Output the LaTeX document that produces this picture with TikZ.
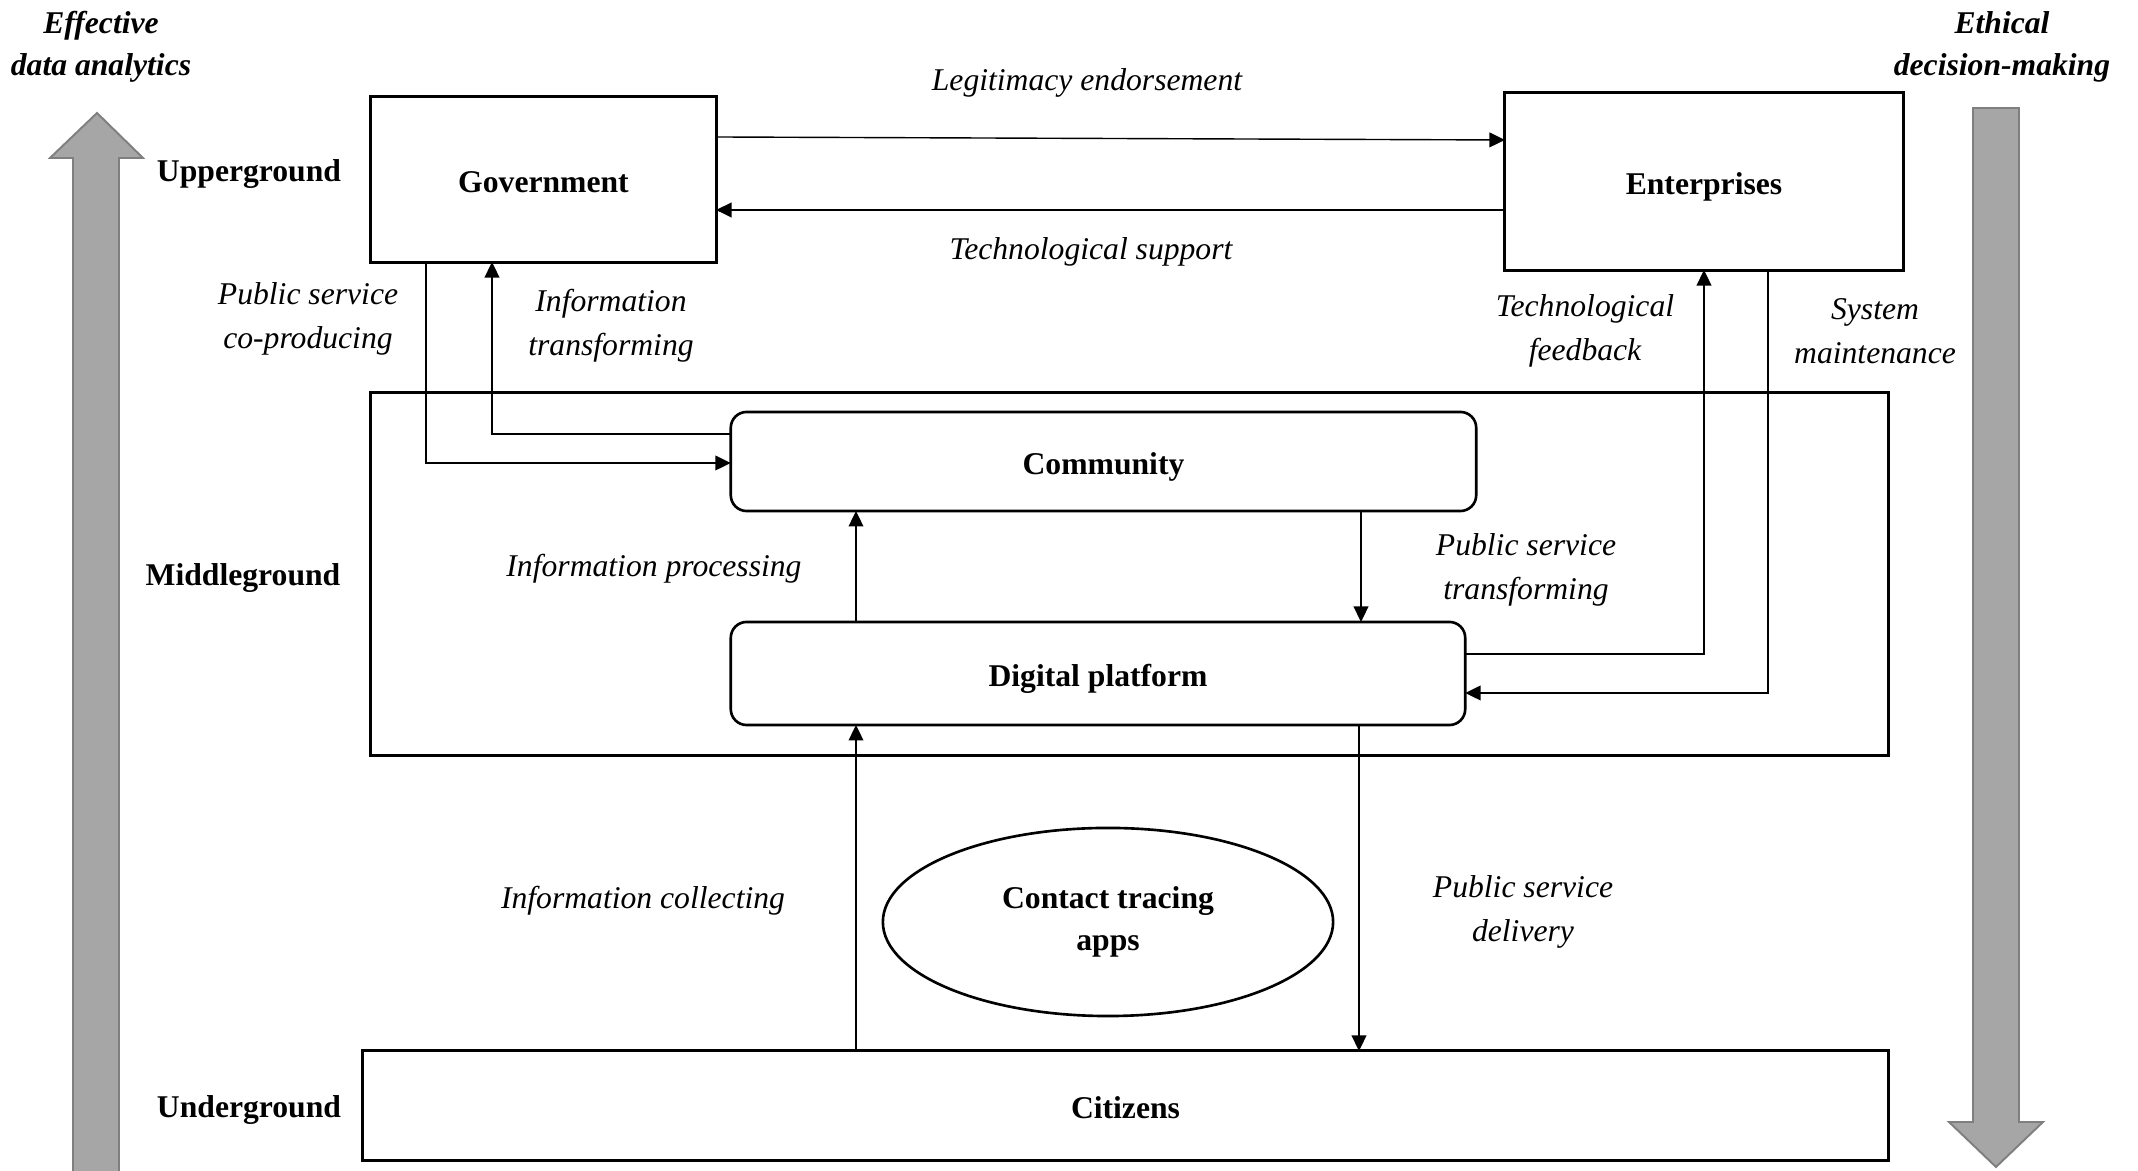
\documentclass[tikz,border=0pt]{standalone}
\usepackage{fontspec}
\setmainfont{Liberation Serif}
\usetikzlibrary{arrows.meta,shapes.geometric}
\definecolor{arrfill}{HTML}{A6A6A6}
\definecolor{arrdraw}{HTML}{7F7F7F}
\tikzset{
  box/.style={draw, line width=0.85pt, rectangle, inner sep=0pt, outer sep=0pt,
              text height=9pt, text depth=1.5pt,
              font=\fontsize{9}{11}\selectfont\bfseries},
  rbox/.style={box, rounded corners=4.5pt, line width=0.75pt},
  lab/.style={font=\fontsize{9}{12.5}\selectfont\itshape, align=center, inner sep=0pt},
  lvl/.style={font=\fontsize{9}{11}\selectfont\bfseries, inner sep=0pt},
  ttl/.style={font=\fontsize{9}{12}\selectfont\bfseries\itshape, align=center, inner sep=0pt},
  conn/.style={line width=0.4pt, -{Triangle[length=4.4pt,width=4.2pt]}},
  bigarrow/.style={fill=arrfill, draw=arrdraw, line width=0.55pt}
}
\begin{document}
\begin{tikzpicture}[x=0.01cm, y=-0.01cm]
\useasboundingbox (0,0) rectangle (2138,1171);

% big gray arrows
\draw[bigarrow] (73,1185) -- (73,158) -- (50,158) -- (97,113) -- (143,158) -- (119,158) -- (119,1185) -- cycle;
\draw[bigarrow] (1973,108) -- (2019,108) -- (2019,1122) -- (2043,1122) -- (1996,1167) -- (1949,1122) -- (1973,1122) -- cycle;

% titles
\node[ttl] (tl) at (101,47) {Effective\\data analytics};
\node[ttl] (tr) at (2002,47) {Ethical\\decision-making};

% level labels
\node[lvl] (up) at (249,174) {Upperground};
\node[lvl] (mid) at (243,578) {Middleground};
\node[lvl] (und) at (249,1110) {Underground};

% main nodes
\node[box, minimum width=3.45cm, minimum height=1.65cm] (gov) at (543.5,179.5) {Government};
\node[box, minimum width=3.98cm, minimum height=1.77cm] (ent) at (1704,181.5) {Enterprises};
\node[box, minimum width=15.17cm, minimum height=3.62cm] (midbox) at (1129.5,574) {};
\node[rbox, minimum width=7.45cm, minimum height=0.99cm] (comm) at (1103.5,461.5) {Community};
\node[rbox, minimum width=7.34cm, minimum height=1.03cm] (dp) at (1098,673.5) {Digital platform};
\node[box, minimum width=15.25cm, minimum height=1.09cm] (cit) at (1125.5,1105.5) {Citizens};
\node[draw, ellipse, line width=0.75pt, minimum width=4.5cm, minimum height=1.88cm, inner sep=0pt,
      align=center, font=\fontsize{9}{12}\selectfont\bfseries] (apps) at (1108,922) {Contact tracing\\apps};

% connector labels
\node[lab] (l1) at (1087,83) {Legitimacy endorsement};
\node[lab] (l2) at (1091,252) {Technological support};
\node[lab] (l3) at (308,319) {Public service\\co-producing};
\node[lab] (l4) at (611,326) {Information\\transforming};
\node[lab] (l5) at (654,569) {Information processing};
\node[lab] (l6) at (1526,570) {Public service\\transforming};
\node[lab] (l7) at (1585,331) {Technological\\feedback};
\node[lab] (l8) at (1875,331) {System\\maintenance};
\node[lab] (l9) at (643,901) {Information collecting};
\node[lab] (l10) at (1523,912) {Public service\\delivery};

% connectors
\draw[conn] (gov.east |- 0,137) -- (ent.west |- 0,140);
\draw[conn] (ent.west |- 0,210) -- (gov.east |- 0,210);
\draw[conn] (gov.south -| 426,0) |- (comm.west |- 0,463);
\draw[conn] (comm.west |- 0,434) -| (gov.south -| 492,0);
\draw[conn] (dp.north -| 856,0) -- (comm.south -| 856,0);
\draw[conn] (comm.south -| 1361,0) -- (dp.north -| 1361,0);
\draw[conn] (dp.east |- 0,654) -| (ent.south);
\draw[conn] (ent.south -| 1768,0) |- (dp.east |- 0,693);
\draw[conn] (cit.north -| 856,0) -- (dp.south -| 856,0);
\draw[conn] (dp.south -| 1359,0) -- (cit.north -| 1359,0);
\end{tikzpicture}
\end{document}
